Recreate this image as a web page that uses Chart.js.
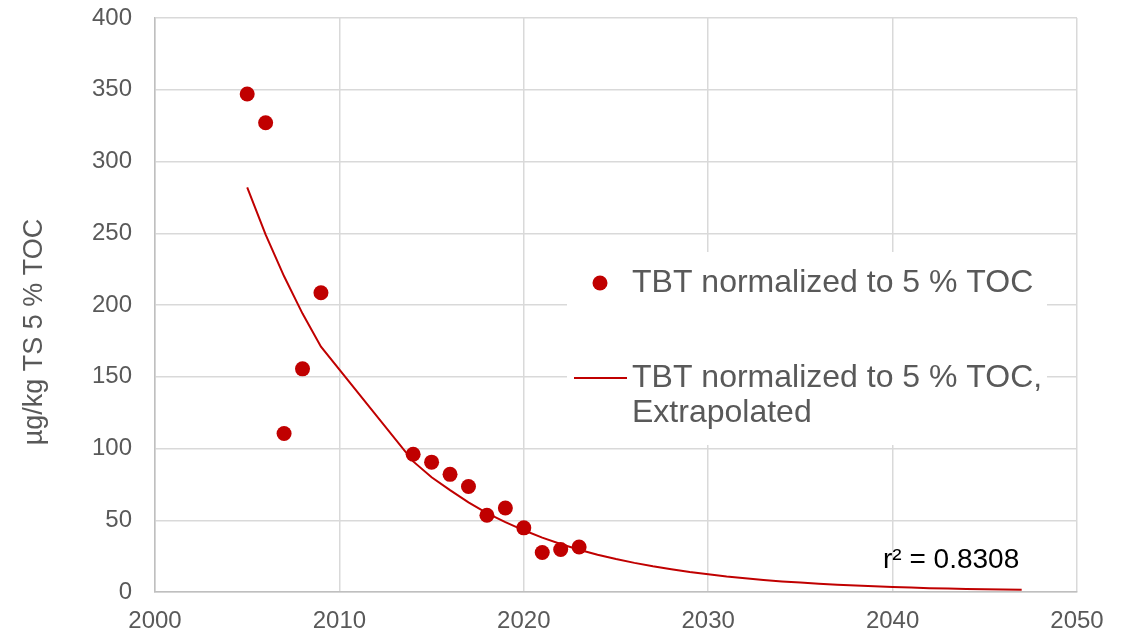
<!DOCTYPE html>
<html><head><meta charset="utf-8">
<script src="https://cdn.jsdelivr.net/npm/chart.js@4/dist/chart.umd.min.js"></script>
<style>html,body{margin:0;padding:0;background:#fff}#wrap{width:1130px;height:634px;position:relative}</style>
</head><body><div id="wrap"><canvas id="c" width="1130" height="634"></canvas></div>
<script>
// ---- data ----
const sampleYears = [2005, 2006, 2007, 2008, 2009, 2014, 2015, 2016, 2017, 2018, 2019, 2020, 2021, 2022, 2023];
const tbtValues   = [347, 327, 110.5, 155.5, 208.5, 96, 90.5, 82, 73.5, 53.5, 58.5, 44.7, 27.5, 29.6, 31.4];

const trendYears  = [2005, 2006, 2007, 2008, 2009, 2014, 2015, 2016, 2017, 2018, 2019, 2020, 2021, 2022, 2023,
                     2024, 2025, 2026, 2027, 2028, 2029, 2030, 2031, 2032, 2033, 2034, 2035, 2036, 2037, 2038,
                     2039, 2040, 2041, 2042, 2043, 2044, 2045, 2046, 2047];
const trendValues = [282, 249, 220, 194, 171, 91, 80, 71, 62.5, 55, 48.7, 43, 37.9, 33.5, 29.5,
                     26, 23, 20.3, 17.9, 15.8, 13.9, 12.3, 10.8, 9.6, 8.4, 7.4, 6.6, 5.8, 5.1, 4.5,
                     4.0, 3.5, 3.1, 2.7, 2.4, 2.1, 1.9, 1.7, 1.5];

const xTicks = [2000, 2010, 2020, 2030, 2040, 2050];
const yTicks = [0, 50, 100, 150, 200, 250, 300, 350, 400];

const seriesLabels = ['TBT normalized to 5 % TOC', 'TBT normalized to 5 % TOC, Extrapolated'];
const legendLines = [['TBT normalized to 5 % TOC'], ['TBT normalized to 5 % TOC,', 'Extrapolated']];
const yAxisTitle = 'µg/kg TS 5 % TOC';
const rSquaredLabel = 'r² = 0.8308';

// ---- chart ----
const RED = '#C00000';
const GREY_TEXT = '#595959';
const FONT = '"Liberation Sans", Arial, sans-serif';

const overlayPlugin = {
  id: 'overlay',
  afterDraw(chart) {
    const ctx = chart.ctx;
    ctx.save();
    // y axis title
    ctx.save();
    ctx.translate(35, 332);
    ctx.rotate(-Math.PI / 2);
    ctx.font = '27px ' + FONT;
    ctx.fillStyle = GREY_TEXT;
    ctx.textAlign = 'center';
    ctx.textBaseline = 'middle';
    ctx.fillText(yAxisTitle, 0, 0);
    ctx.restore();
    // legend box
    ctx.fillStyle = '#ffffff';
    ctx.fillRect(567, 252, 480, 193);
    ctx.font = '32px ' + FONT;
    ctx.textBaseline = 'middle';
    ctx.textAlign = 'left';
    ctx.beginPath();
    ctx.arc(600, 283, 7.5, 0, Math.PI * 2);
    ctx.fillStyle = RED;
    ctx.fill();
    ctx.fillStyle = GREY_TEXT;
    ctx.fillText(legendLines[0][0], 632, 283);
    ctx.beginPath();
    ctx.moveTo(574, 378);
    ctx.lineTo(627, 378);
    ctx.strokeStyle = RED;
    ctx.lineWidth = 2;
    ctx.stroke();
    ctx.fillText(legendLines[1][0], 632, 378);
    ctx.fillText(legendLines[1][1], 632, 413.5);
    // r² label
    ctx.font = '28px ' + FONT;
    ctx.fillStyle = '#000000';
    ctx.textBaseline = 'alphabetic';
    ctx.fillText(rSquaredLabel, 883, 567.5);
    ctx.restore();
  }
};

new Chart(document.getElementById('c'), {
  type: 'scatter',
  data: {
    datasets: [
      {
        label: seriesLabels[0],
        data: sampleYears.map((x, i) => ({ x, y: tbtValues[i] })),
        backgroundColor: RED,
        borderColor: RED,
        pointRadius: 7.5,
        pointHoverRadius: 7.5,
        pointBorderWidth: 0,
        showLine: false,
        order: 0
      },
      {
        label: seriesLabels[1],
        data: trendYears.map((x, i) => ({ x, y: trendValues[i] })),
        borderColor: RED,
        backgroundColor: RED,
        borderWidth: 2,
        pointRadius: 0,
        pointHoverRadius: 0,
        showLine: true,
        tension: 0,
        order: 1
      }
    ]
  },
  options: {
    responsive: false,
    animation: false,
    devicePixelRatio: 1,
    layout: { padding: { top: 18, right: 53, left: 0, bottom: 0 } },
    plugins: { legend: { display: false }, tooltip: { enabled: false } },
    scales: {
      x: {
        type: 'linear',
        min: 2000, max: 2050,
        afterBuildTicks: s => { s.ticks = xTicks.map(v => ({ value: v })); },
        afterFit: s => { s.height = 42; s.paddingLeft = 0; s.paddingRight = 0; },
        ticks: {
          callback: v => String(v),
          color: GREY_TEXT,
          font: { family: FONT, size: 24 },
          padding: 15,
          maxRotation: 0
        },
        grid: { color: '#D9D9D9', lineWidth: 1.5, drawTicks: false },
        border: { color: '#BFBFBF', width: 1.5 }
      },
      y: {
        type: 'linear',
        min: 0, max: 400,
        afterBuildTicks: s => { s.ticks = yTicks.map(v => ({ value: v })); },
        afterFit: s => { s.width = 155; s.paddingTop = 0; s.paddingBottom = 0; },
        ticks: {
          callback: v => String(v),
          color: GREY_TEXT,
          font: { family: FONT, size: 24 },
          padding: 23
        },
        grid: { color: '#D9D9D9', lineWidth: 1.5, drawTicks: false },
        border: { color: '#BFBFBF', width: 1.5 },
        title: { display: false, text: yAxisTitle }
      }
    }
  },
  plugins: [overlayPlugin]
});
</script>
</body></html>
